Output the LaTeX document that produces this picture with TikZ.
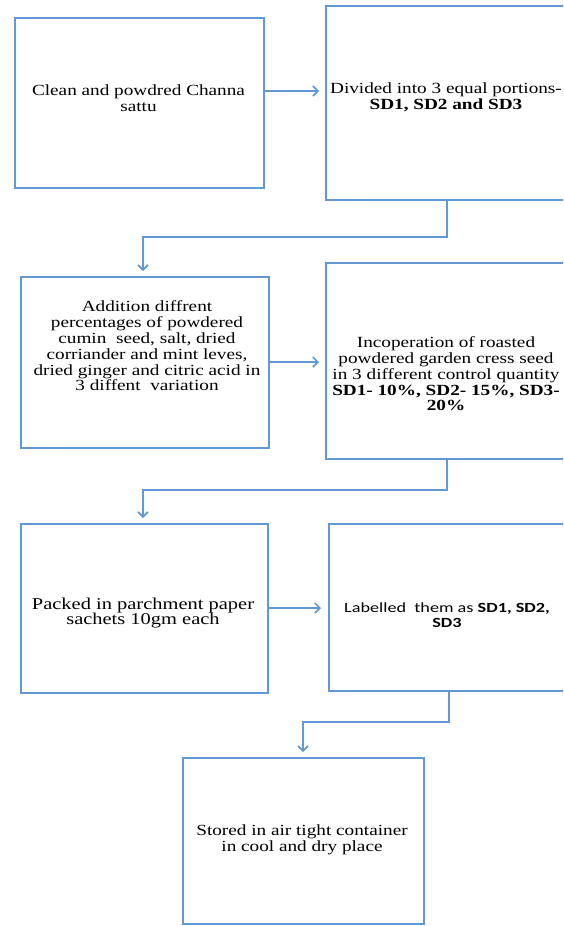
\documentclass[tikz,border=0pt]{standalone}
\usepackage{fontspec}
\setmainfont{Liberation Serif}[FakeStretch=1.24]
\newfontfamily\calfont{Carlito}[FakeStretch=1.3]
\usetikzlibrary{arrows.meta,calc}
\definecolor{lineblue}{RGB}{98,152,212}
\begin{document}
\begin{tikzpicture}[x=1pt,y=-1pt,
  box/.style={draw=lineblue, line width=1.6pt, rectangle, inner sep=0pt, anchor=north west},
  txt/.style={align=center, inner sep=0pt, text=black, font=\fontsize{15.5}{15.8}\selectfont},
  arr/.style={draw=lineblue, line width=1.6pt, -{Straight Barb[length=5pt,width=10pt]}},
]
\useasboundingbox (0,0) rectangle (563,926);
\clip (0,0) rectangle (563,926);

% boxes
\node[box, minimum width=249pt, minimum height=170pt] (b1) at (14,17) {};
\node[box, minimum width=242pt, minimum height=194pt] (b2) at (325,5) {};
\node[box, minimum width=248pt, minimum height=171pt] (b3) at (20,276) {};
\node[box, minimum width=242pt, minimum height=196pt] (b4) at (325,262) {};
\node[box, minimum width=247pt, minimum height=169pt] (b5) at (20,523) {};
\node[box, minimum width=239pt, minimum height=167pt] (b6) at (328,523) {};
\node[box, minimum width=241pt, minimum height=166pt] (b7) at (182,757) {};

% texts
\node[txt] (t1) at (138.5,98) {Clean and powdred Channa\\sattu};
\node[txt] (t2) at (446,97.5) {Divided into 3 equal portions-\\\textbf{SD1, SD2 and SD3}};
\node[txt] (t3) at (147,346) {Addition diffrent\\percentages of powdered\\cumin\ \ seed, salt, dried\\corriander and mint leves,\\dried ginger and citric acid in\\3 diffent\ \ variation};
\node[txt] (t4) at (446,374) {Incoperation of roasted\\powdered garden cress seed\\in 3 different control quantity\\\textbf{SD1- 10\%, SD2- 15\%, SD3-}\\\textbf{20\%}};
\node[txt, font=\fontsize{16.5}{15.5}\selectfont] (t5) at (143,613) {Packed in parchment paper\\sachets 10gm each};
\node[txt, font=\calfont\fontsize{14}{15.5}\selectfont] (t6) at (447,615) {Labelled\ \ them as \textbf{SD1, SD2,}\\\textbf{SD3}};
\node[txt] (t7) at (302,840) {Stored in air tight container\\in cool and dry place};

% helper coordinates
\coordinate (y1) at (0,91);
\coordinate (y2) at (0,362);
\coordinate (y3) at (0,608);
\coordinate (k1) at (447,237);
\coordinate (k1b) at (143,237);
\coordinate (k2) at (447,490);
\coordinate (k2b) at (143,490);
\coordinate (k3) at (449,722);
\coordinate (k3b) at (303,722);

% connectors
\draw[arr, shorten >=6pt] (b1.east |- y1) -- (b2.west |- y1);
\draw[arr, shorten >=6pt] (b3.east |- y2) -- (b4.west |- y2);
\draw[arr, shorten >=7pt] (b5.east |- y3) -- (b6.west |- y3);
\draw[arr, shorten >=5pt] (b2.south -| k1) -- (k1) -- (k1b) -- (b3.north -| k1b);
\draw[arr, shorten >=5pt] (b4.south -| k2) -- (k2) -- (k2b) -- (b5.north -| k2b);
\draw[arr, shorten >=5pt] (b6.south -| k3) -- (k3) -- (k3b) -- (b7.north -| k3b);
\end{tikzpicture}
\end{document}
